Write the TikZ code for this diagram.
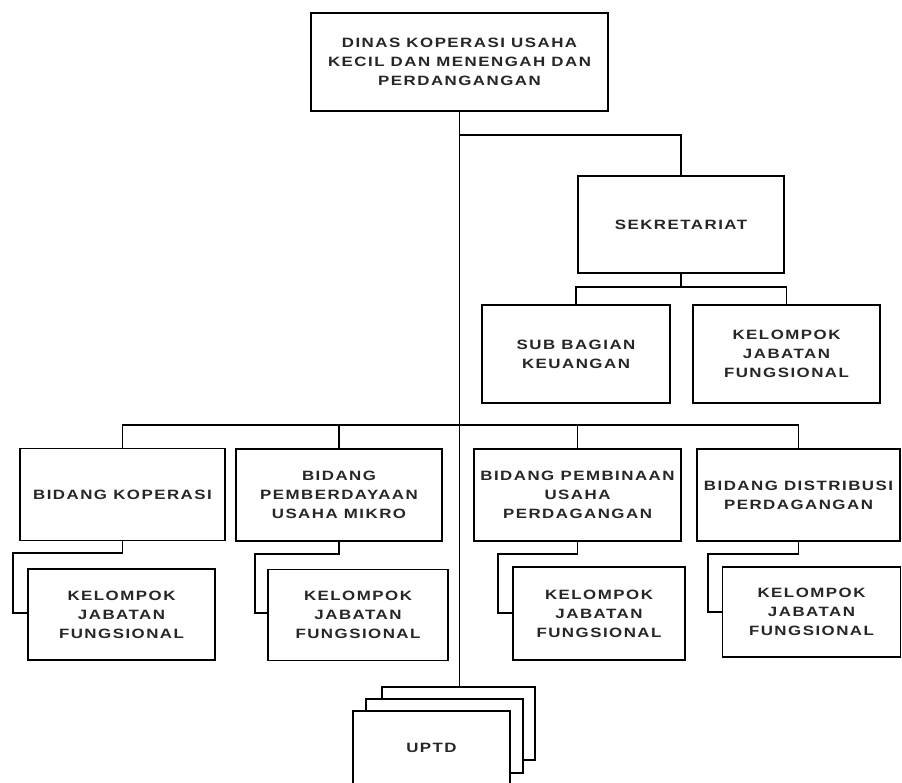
\documentclass[tikz,border=0pt]{standalone}
\usepackage{fontspec}
\usepackage{tikz}
\usetikzlibrary{calc}
\newfontfamily\orgfont[LetterSpace=11,FakeStretch=1.25]{Liberation Sans}
\tikzset{
unit/.style={
    draw, rectangle, line width=1.4pt, fill=white,
    inner sep=2pt, text=black!85, align=center,
    font=\orgfont\bfseries\fontsize{13.5}{19}\selectfont
  }
}

\begin{document}
\begin{tikzpicture}[x=1pt,y=-1pt,
 box/.style={unit, minimum width=#1},
 tall/.style={minimum height=98pt},
 mid/.style={minimum height=92pt},
 link/.style={line width=1.7pt, line cap=rect}
  ]
\clip (0,0) rectangle (902,783);

% top and sekretariat
\node[box=297pt,tall] (dinas) at (459.5,62) {DINAS KOPERASI USAHA\\KECIL DAN MENENGAH DAN\\PERDANGANGAN};
\node[box=206pt,minimum height=97pt] (sekre) at (681,224.5) {SEKRETARIAT};
\node[box=188pt,tall] (subbag) at (576,354) {SUB BAGIAN\\KEUANGAN};
\node[box=187pt,tall] (kjfs) at (786.5,354) {KELOMPOK\\JABATAN\\FUNGSIONAL};

% bidang
\node[box=205pt,mid] (bid1) at (122.5,494.5) {BIDANG KOPERASI};
\node[box=206pt,mid] (bid2) at (339,495) {BIDANG\\PEMBERDAYAAN\\USAHA MIKRO};
\node[box=207pt,mid] (bid3) at (577.5,495) {BIDANG PEMBINAAN\\USAHA\\PERDAGANGAN};
\node[box=203pt,mid] (bid4) at (798.5,495) {BIDANG DISTRIBUSI\\PERDAGANGAN};

\node[box=187pt,minimum height=91pt] (kjf1) at (121.5,614.5) {KELOMPOK\\JABATAN\\FUNGSIONAL};
\node[box=180pt,minimum height=91pt] (kjf2) at (358,615) {KELOMPOK\\JABATAN\\FUNGSIONAL};
\node[box=172pt,minimum height=93pt] (kjf3) at (599,613.5) {KELOMPOK\\JABATAN\\FUNGSIONAL};
\node[box=178pt,minimum height=90pt] (kjf4) at (811.5,612) {KELOMPOK\\JABATAN\\FUNGSIONAL};

% uptd stack
\node[box=153pt,minimum height=73pt] (uptdA) at (458.5,723.5) {};
\node[box=157pt,minimum height=74pt] (uptdB) at (444.5,736) {};
\node[box=157pt,minimum height=74pt] (uptdC) at (431.5,748) {UPTD};

\draw[link] (dinas.south) -- (dinas.south |- uptdA.north);
\draw[link] ($(dinas.south)+(0,23)$) -| (sekre.north);
\draw[link] (sekre.south) -- ++(0,13);
\draw[link] (subbag.north) |- ($(sekre.south)+(0,13)$) -| (kjfs.north);
\draw[link] (bid1.north) |- (dinas.south |- 0,425) -| (bid4.north);
\draw[link] (bid2.north) -- (bid2.north |- 0,425);
\draw[link] (bid3.north) -- (bid3.north |- 0,425);

\draw[link] (bid1.south) -- ++(0,12) -| (13,613) -- (kjf1.west |- 0,613);
\draw[link] (bid2.south) -- ++(0,12) -| (255,613) -- (kjf2.west |- 0,613);
\draw[link] (bid3.south) -- ++(0,12) -| (498,613) -- (kjf3.west |- 0,613);
\draw[link] (bid4.south) -- ++(0,12) -| (708,612) -- (kjf4.west |- 0,612);
\end{tikzpicture}
\end{document}
